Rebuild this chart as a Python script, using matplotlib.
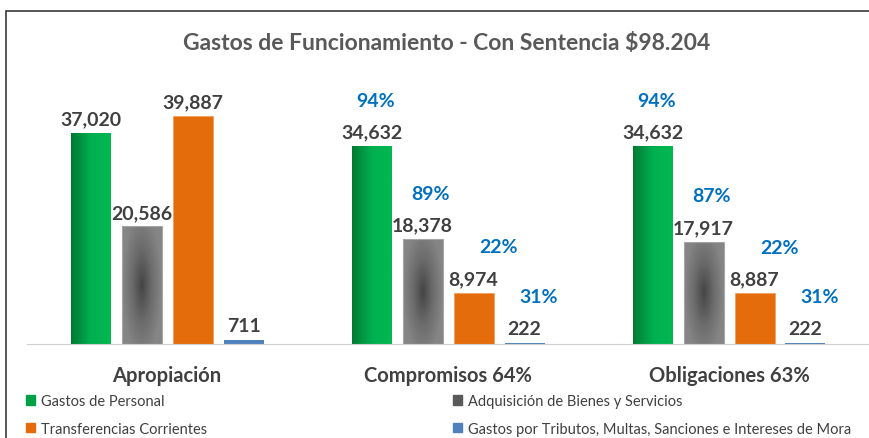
import numpy as np
import matplotlib.pyplot as plt
from matplotlib.patches import Patch, Rectangle
from matplotlib.colors import LinearSegmentedColormap

plt.rcParams['font.family'] = ['Lato', 'DejaVu Sans']

# data
title = 'Gastos de Funcionamiento - Con Sentencia $98.204'
categories = ['Apropiación', 'Compromisos 64%', 'Obligaciones 63%']
series_names = ['Gastos de Personal', 'Adquisición de Bienes y Servicios',
                'Transferencias Corrientes',
                'Gastos por Tributos, Multas, Sanciones e Intereses de Mora']
personal = [37020, 34632, 34632]
bienes = [20586, 18378, 17917]
transferencias = [39887, 8974, 8887]
tributos = [711, 222, 222]
pct_personal = [None, 94, 94]
pct_bienes = [None, 89, 87]
pct_transferencias = [None, 22, 22]
pct_tributos = [None, 31, 31]

values = [personal, bienes, transferencias, tributos]
pcts = [pct_personal, pct_bienes, pct_transferencias, pct_tributos]
legend_colors = ['#00A046', '#595959', '#E46C0A', '#4F81BD']
pct_dx = [3, 6, 18, 10]  # horizontal nudge of % labels, points

W, H = 869, 439
fig = plt.figure(figsize=(W / 100, H / 100), dpi=100)
ax = fig.add_axes([26.5 / W, (H - 345) / H, 843 / W, 257 / H])
ax.set_xlim(-0.5, 2.5)
ax.set_ylim(0, 45000)

# chart frame
fig.add_artist(Rectangle((6 / W, -0.1), 1.2, (H - 12) / H + 0.1, transform=fig.transFigure,
                         fill=False, edgecolor='#3a3a3a', linewidth=1.2))

x = np.arange(len(categories))
bw = 40 / 281
step = 51 / 281

# gradients
green_grad = np.linspace(0, 1, 64).reshape(1, -1)
green_cmap = LinearSegmentedColormap.from_list('g', ['#007A33', '#00B050', '#00B850'])
yy, xx = np.mgrid[-1:1:80j, -1:1:40j]
radial = np.clip(np.sqrt(xx ** 2 + (yy * 0.8) ** 2), 0, 1)
gray_cmap = LinearSegmentedColormap.from_list('k', ['#474747', '#6c6c6c', '#858585'])

for i, (vals, pc) in enumerate(zip(values, pcts)):
    xs = x + (i - 1.5) * step
    if i == 0:
        bars = ax.bar(xs, vals, bw, facecolor='none', edgecolor='none', zorder=2)
        for b in bars:
            im = ax.imshow(green_grad, cmap=green_cmap, aspect='auto', zorder=2,
                           extent=[b.get_x(), b.get_x() + b.get_width(), 0, b.get_height()])
            im.set_clip_path(b)
    elif i == 1:
        bars = ax.bar(xs, vals, bw, facecolor='none', edgecolor='#a6a6a6', linewidth=0.8, zorder=3)
        for b in bars:
            im = ax.imshow(radial, cmap=gray_cmap, aspect='auto', zorder=2,
                           extent=[b.get_x(), b.get_x() + b.get_width(), 0, b.get_height()])
            im.set_clip_path(b)
    elif i == 2:
        bars = ax.bar(xs, vals, bw, color='#E46C0A', edgecolor='#F0A060', linewidth=0.6, zorder=2)
    else:
        bars = ax.bar(xs, vals, bw, color='#4F81BD', zorder=2)

    for xv, v, p in zip(xs, vals, pc):
        ax.annotate(f'{v:,}', (xv, v), xytext=(0, 4), textcoords='offset points',
                    ha='center', va='bottom', fontsize=14, fontweight='bold', color='#404040')
        if p is not None:
            ax.annotate(f'{p}%', (xv, v), xytext=(pct_dx[i], 27), textcoords='offset points',
                        ha='center', va='bottom', fontsize=14, fontweight='bold', color='#0070C0')

ax.set_xticks(x)
ax.set_xticklabels(categories, fontsize=14.5, fontweight='bold', color='#404040')
ax.tick_params(axis='x', length=0, pad=15)
ax.set_yticks([])
for s in ['top', 'right', 'left']:
    ax.spines[s].set_visible(False)
ax.spines['bottom'].set_color('#d0d0d0')

fig.text(447 / W, 1 - 44 / H, title, ha='center', va='center', fontsize=16.5,
         fontweight='bold', color='#595959')

handles = [Patch(color=c) for c in legend_colors]
order = [0, 2, 1, 3]
fig.legend([handles[k] for k in order], [series_names[k] for k in order], ncol=2,
           loc='upper left', bbox_to_anchor=(13 / W, 1 - 382 / H), frameon=False,
           fontsize=10.5, handlelength=0.6, handleheight=0.6, handletextpad=0.4,
           columnspacing=16.9, labelspacing=0.95, labelcolor='#404040')

fig.savefig('out.png', dpi=100)
